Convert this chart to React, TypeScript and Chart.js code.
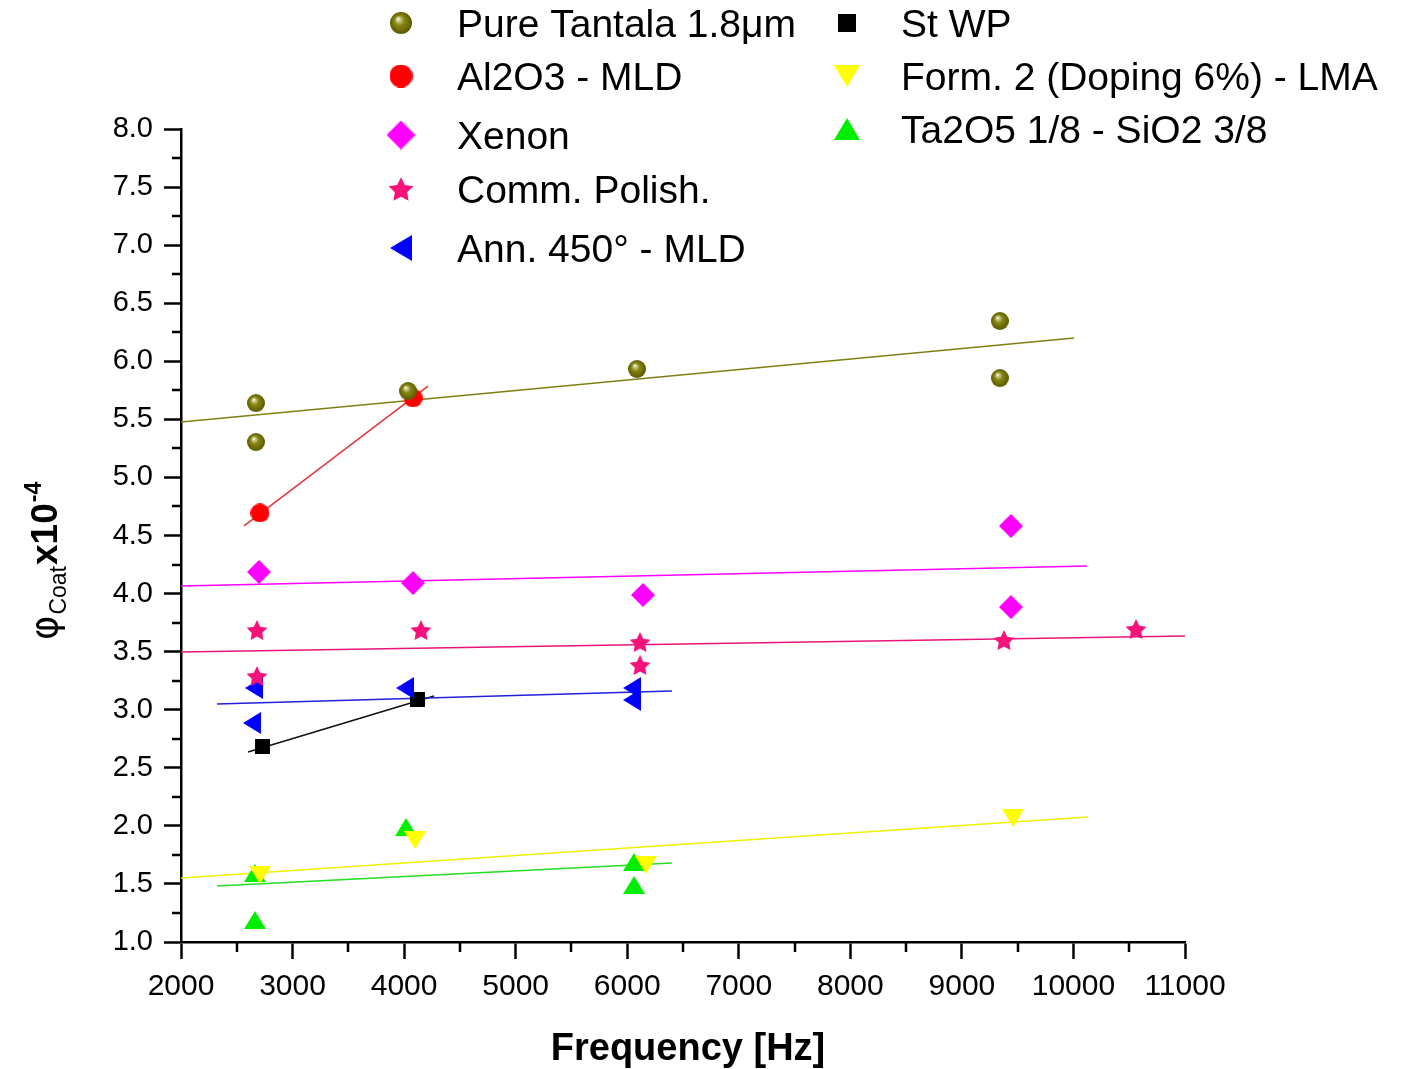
import React, { useEffect, useRef } from 'react';
import { Chart, registerables } from 'chart.js';

Chart.register(...registerables);

// ---------- data ----------
const tantalaX = [2672, 2672, 4035, 6088, 9341, 9341];
const tantalaY = [5.64, 5.305, 5.744, 5.934, 6.347, 5.856];
const tantalaFitX = [2000, 10005];
const tantalaFitY = [5.477, 6.201];

const al2o3X = [2708, 4080];
const al2o3Y = [4.694, 5.684];
const al2o3FitX = [2565, 4214];
const al2o3FitY = [4.582, 5.787];

const xenonX = [2699, 4080, 6141, 9440, 9440];
const xenonY = [4.186, 4.091, 3.988, 4.582, 3.884];
const xenonFitX = [2000, 10121];
const xenonFitY = [4.065, 4.237];

const commX = [2681, 2681, 4151, 6115, 6115, 9377, 10561];
const commY = [3.686, 3.29, 3.686, 3.583, 3.385, 3.6, 3.695];
const commFitX = [2000, 11000];
const commFitY = [3.497, 3.635];

const annX = [2654, 2636, 4008, 6043, 6043];
const annY = [3.187, 2.886, 3.187, 3.187, 3.084];
const annFitX = [2323, 6401];
const annFitY = [3.049, 3.161];

const stwpX = [2735, 4124];
const stwpY = [2.679, 3.084];
const stwpFitX = [2601, 4268];
const stwpFitY = [2.636, 3.118];

const form2X = [2708, 4098, 6168, 9458];
const form2Y = [1.577, 1.878, 1.663, 2.068];
const form2FitX = [2000, 10130];
const form2FitY = [1.551, 2.076];

const ta2o5X = [2663, 2663, 4017, 6061, 6061];
const ta2o5Y = [1.594, 1.189, 1.99, 1.689, 1.491];
const ta2o5FitX = [2323, 6401];
const ta2o5FitY = [1.482, 1.68];

const xTickValues = [2000, 3000, 4000, 5000, 6000, 7000, 8000, 9000, 10000, 11000];
const yTickValues = [1.0, 1.5, 2.0, 2.5, 3.0, 3.5, 4.0, 4.5, 5.0, 5.5, 6.0, 6.5, 7.0, 7.5, 8.0];

// ---------- series config ----------
type Kind = 'sphere' | 'circle' | 'diamond' | 'star' | 'left' | 'square' | 'down' | 'up';

const series: {
  label: string; xs: number[]; ys: number[]; fx: number[]; fy: number[];
  kind: Kind; color: string; line: string;
}[] = [
  { label: 'Pure Tantala 1.8\u03BCm', xs: tantalaX, ys: tantalaY, fx: tantalaFitX, fy: tantalaFitY, kind: 'sphere', color: '#808000', line: '#7f7f10' },
  { label: 'Al2O3 - MLD', xs: al2o3X, ys: al2o3Y, fx: al2o3FitX, fy: al2o3FitY, kind: 'circle', color: '#ff0000', line: '#e03a3a' },
  { label: 'Xenon', xs: xenonX, ys: xenonY, fx: xenonFitX, fy: xenonFitY, kind: 'diamond', color: '#ff00ff', line: '#ff00ff' },
  { label: 'Comm. Polish.', xs: commX, ys: commY, fx: commFitX, fy: commFitY, kind: 'star', color: '#f5127a', line: '#e8147a' },
  { label: 'Ann. 450\u00B0 - MLD', xs: annX, ys: annY, fx: annFitX, fy: annFitY, kind: 'left', color: '#0000ff', line: '#2020dd' },
  { label: 'St WP', xs: stwpX, ys: stwpY, fx: stwpFitX, fy: stwpFitY, kind: 'square', color: '#000000', line: '#111111' },
  { label: 'Form. 2 (Doping 6%) - LMA', xs: form2X, ys: form2Y, fx: form2FitX, fy: form2FitY, kind: 'down', color: '#ffff00', line: '#f0f000' },
  { label: 'Ta2O5 1/8 - SiO2 3/8', xs: ta2o5X, ys: ta2o5Y, fx: ta2o5FitX, fy: ta2o5FitY, kind: 'up', color: '#00ee00', line: '#22dd22' },
];

function makeMarker(kind: Kind, color: string, scale = 1): HTMLCanvasElement {
  const dims: Record<Kind, [number, number]> = {
    sphere: [18, 18], circle: [19, 19], diamond: [24, 24], star: [22, 22],
    left: [18, 22], square: [15, 15], down: [22, 18], up: [22, 18],
  };
  const [w0, h0] = dims[kind];
  const w = Math.round(w0 * scale);
  const h = Math.round(h0 * scale);
  const c = document.createElement('canvas');
  c.width = w;
  c.height = h;
  const ctx = c.getContext('2d')!;
  ctx.fillStyle = color;
  ctx.beginPath();
  switch (kind) {
    case 'sphere': {
      const g = ctx.createRadialGradient(w * 0.36, h * 0.3, 0, w * 0.5, h * 0.5, w * 0.5);
      g.addColorStop(0, '#ffffff');
      g.addColorStop(0.16, '#cfcf95');
      g.addColorStop(0.45, '#868612');
      g.addColorStop(1, '#5a5a00');
      ctx.fillStyle = g;
      ctx.arc(w / 2, h / 2, w / 2, 0, Math.PI * 2);
      break;
    }
    case 'circle':
      ctx.arc(w / 2, h / 2, w / 2, 0, Math.PI * 2);
      break;
    case 'diamond':
      ctx.moveTo(w / 2, 0); ctx.lineTo(w, h / 2); ctx.lineTo(w / 2, h); ctx.lineTo(0, h / 2); ctx.closePath();
      break;
    case 'star': {
      const R = w / 2;
      const r = R * 0.5;
      const cy = h / 2 + R * 0.1;
      for (let i = 0; i < 10; i++) {
        const a = -Math.PI / 2 + (i * Math.PI) / 5;
        const rr = i % 2 ? r : R;
        const x = w / 2 + rr * Math.cos(a);
        const y = cy + rr * Math.sin(a);
        if (i === 0) ctx.moveTo(x, y); else ctx.lineTo(x, y);
      }
      ctx.closePath();
      break;
    }
    case 'left':
      ctx.moveTo(0, h / 2); ctx.lineTo(w, 0); ctx.lineTo(w, h); ctx.closePath();
      break;
    case 'square':
      ctx.rect(0, 0, w, h);
      break;
    case 'down':
      ctx.moveTo(0, 0); ctx.lineTo(w, 0); ctx.lineTo(w / 2, h); ctx.closePath();
      break;
    case 'up':
      ctx.moveTo(w / 2, 0); ctx.lineTo(w, h); ctx.lineTo(0, h); ctx.closePath();
      break;
  }
  ctx.fill();
  return c;
}

const legendCol1 = { markerX: 401, textX: 457, rows: [23, 76, 135, 189, 248] };
const legendCol2 = { markerX: 847, textX: 901, rows: [23, 76, 129] };

export default function App() {
  const ref = useRef<HTMLCanvasElement | null>(null);

  useEffect(() => {
    document.body.style.margin = '0';
    const canvas = ref.current!;
    const pointImgs = series.map((s) => makeMarker(s.kind, s.color, 1));
    const legendImgs = series.map((s) => makeMarker(s.kind, s.color, 1.2));

    const pointDatasets = series.map((s, i) => ({
      type: 'scatter' as const,
      label: s.label,
      data: s.xs.map((x, j) => ({ x, y: s.ys[j] })),
      pointStyle: pointImgs[i],
      pointRadius: 10,
      showLine: false,
      order: 0,
    }));
    const fitDatasets = series.map((s) => ({
      type: 'line' as const,
      label: s.label + ' fit',
      data: s.fx.map((x, j) => ({ x, y: s.fy[j] })),
      borderColor: s.line,
      borderWidth: 1.6,
      pointRadius: 0,
      showLine: true,
      fill: false,
      order: 1,
    }));

    const extras = {
      id: 'extras',
      afterDraw(chart: any) {
        const ctx = chart.ctx as CanvasRenderingContext2D;
        const xs = chart.scales.x;
        const ys = chart.scales.y;
        const area = chart.chartArea;
        ctx.save();
        // minor ticks
        ctx.strokeStyle = '#000';
        ctx.lineWidth = 2.5;
        ctx.beginPath();
        for (let v = 1.25; v < 8; v += 0.5) {
          const py = Math.round(ys.getPixelForValue(v));
          ctx.moveTo(area.left - 9, py);
          ctx.lineTo(area.left, py);
        }
        for (let v = 2500; v < 11000; v += 1000) {
          const px = Math.round(xs.getPixelForValue(v));
          ctx.moveTo(px, area.bottom);
          ctx.lineTo(px, area.bottom + 10);
        }
        ctx.stroke();

        // legend
        ctx.fillStyle = '#000';
        ctx.font = '39px "Liberation Sans", Arial, sans-serif';
        ctx.textBaseline = 'alphabetic';
        ctx.textAlign = 'left';
        series.forEach((s, i) => {
          const col = i < 5 ? legendCol1 : legendCol2;
          const row = i < 5 ? i : i - 5;
          const y = col.rows[row];
          const img = legendImgs[i];
          ctx.drawImage(img, col.markerX - img.width / 2, y - img.height / 2);
          ctx.fillStyle = '#000';
          ctx.fillText(s.label, col.textX, y + 14);
        });

        // x title
        ctx.font = 'bold 38px "Liberation Sans", Arial, sans-serif';
        ctx.textAlign = 'center';
        ctx.fillText('Frequency [Hz]', (area.left + area.right) / 2 + 5, 1060);

        // y title (rotated)
        ctx.translate(57, 640);
        ctx.rotate(-Math.PI / 2);
        ctx.textAlign = 'left';
        let x = 0;
        ctx.font = '37px "DejaVu Sans", sans-serif';
        ctx.fillText('\u03C6', x, 0);
        x += ctx.measureText('\u03C6').width + 1;
        ctx.font = '23px "Liberation Sans", Arial, sans-serif';
        ctx.fillText('Coat', x, 9);
        x += ctx.measureText('Coat').width + 1;
        ctx.font = 'bold 37px "Liberation Sans", Arial, sans-serif';
        ctx.fillText('x10', x, 0);
        x += ctx.measureText('x10').width + 1;
        ctx.font = 'bold 23px "Liberation Sans", Arial, sans-serif';
        ctx.fillText('-4', x, -16);
        ctx.restore();
      },
    };

    const chart = new Chart(canvas, {
      type: 'scatter',
      data: { datasets: [...pointDatasets, ...fitDatasets] as any },
      options: {
        animation: false,
        responsive: false,
        devicePixelRatio: 1,
        layout: { padding: { top: 129, right: 220, left: 0, bottom: 0 } },
        plugins: { legend: { display: false }, tooltip: { enabled: false } },
        scales: {
          x: {
            type: 'linear',
            min: 2000,
            max: 11000,
            afterFit: (s: any) => { s.height = 127; },
            afterBuildTicks: (s: any) => { s.ticks = xTickValues.map((v) => ({ value: v })); },
            ticks: {
              color: '#000',
              font: { family: '"Liberation Sans", Arial, sans-serif', size: 30 },
              padding: 10,
              maxRotation: 0,
              autoSkip: false,
              callback: (v: any) => String(v),
            },
            grid: { display: true, drawOnChartArea: false, drawTicks: true, tickLength: 17, tickWidth: 2.5, tickColor: '#000' },
            border: { display: true, color: '#000', width: 2.5 },
          },
          y: {
            type: 'linear',
            min: 1,
            max: 8,
            afterFit: (s: any) => { s.width = 181; },
            afterBuildTicks: (s: any) => { s.ticks = yTickValues.map((v) => ({ value: v })); },
            ticks: {
              color: '#000',
              font: { family: '"Liberation Sans", Arial, sans-serif', size: 29 },
              padding: 11,
              autoSkip: false,
              callback: (v: any) => Number(v).toFixed(1),
            },
            grid: { display: true, drawOnChartArea: false, drawTicks: true, tickLength: 17, tickWidth: 2.5, tickColor: '#000' },
            border: { display: true, color: '#000', width: 2.5 },
          },
        },
      },
      plugins: [extras],
    });
    return () => chart.destroy();
  }, []);

  return (
    <div style={{ position: 'absolute', left: 0, top: 0, width: 1405, height: 1069, background: '#fff' }}>
      <canvas ref={ref} width={1405} height={1069} />
    </div>
  );
}
